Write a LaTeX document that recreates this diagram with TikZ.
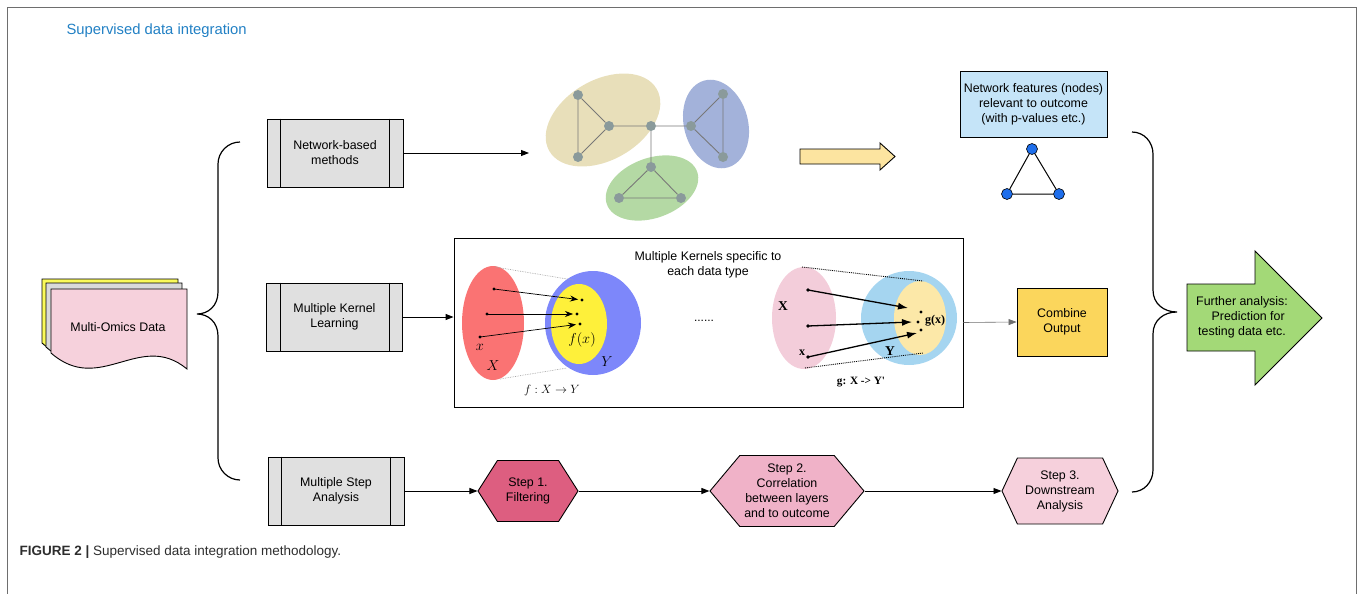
\documentclass[tikz,border=0pt]{standalone}
\usepackage{fontspec}
\setmainfont{Liberation Sans}
\newfontfamily\timesf{Liberation Serif}
\usetikzlibrary{arrows.meta,shapes.symbols}

\definecolor{framegray}{RGB}{110,110,110}
\definecolor{titleblue}{RGB}{33,128,196}
\definecolor{capgray}{RGB}{45,45,45}
\definecolor{procgray}{RGB}{224,224,224}
\definecolor{omicsyellow}{RGB}{250,250,90}
\definecolor{omicsgray}{RGB}{217,217,217}
\definecolor{omicspink}{RGB}{246,209,220}
\definecolor{netbeige}{RGB}{232,223,186}
\definecolor{netblue}{RGB}{163,178,218}
\definecolor{netgreen}{RGB}{180,217,164}
\definecolor{netnode}{RGB}{138,154,155}
\definecolor{netedge}{RGB}{120,120,120}
\definecolor{arrowyellow}{RGB}{252,228,160}
\definecolor{nfblue}{RGB}{197,228,248}
\definecolor{featblue}{RGB}{30,110,235}
\definecolor{kred}{RGB}{250,115,115}
\definecolor{kblue}{RGB}{125,135,250}
\definecolor{kyellow}{RGB}{254,240,58}
\definecolor{kpink}{RGB}{243,205,218}
\definecolor{klblue}{RGB}{165,213,240}
\definecolor{klyellow}{RGB}{252,232,168}
\definecolor{combyellow}{RGB}{251,214,92}
\definecolor{arrowgreen}{RGB}{163,217,119}
\definecolor{stepa}{RGB}{221,94,128}
\definecolor{stepb}{RGB}{240,178,200}
\definecolor{stepc}{RGB}{246,208,220}

\begin{document}
\begin{tikzpicture}[x=1pt, y=-1pt, > = {Triangle[length=8pt,width=6pt]},
    every node/.style = {font=\fontsize{12.4}{15}\selectfont, align=center},
    process/.style = {draw, fill=procgray, line width=0.9pt, minimum width=136, minimum height=68, inner sep=0pt},
    stepbox/.style = {shape=signal, signal to=east and west, draw, line width=0.9pt, inner sep=0pt},
    gnode/.style = {circle, fill=netnode, minimum size=10, inner sep=0pt},
    fnode/.style = {circle, draw, fill=featblue, minimum size=11, inner sep=0pt, line width=0.6pt},
    brace/.style = {line width=1.2pt},
    flow/.style = {->, line width=0.9pt},
    maparrow/.style = {-{Stealth[length=8pt,width=6pt]}, line width=0.7pt},
    bigmap/.style = {-{Latex[length=10pt,width=7pt]}, line width=1.3pt}]

    % frame and title
    \useasboundingbox (0,0) rectangle (1358,594);
    \draw[framegray, line width=1pt] (7,594) -- (7,8) -- (1356,8) -- (1356,594);
    \node[anchor=west, text=titleblue, font=\fontsize{14.8}{17}\selectfont] (title) at (63,31) {Supervised data integration};

    % stacked data sheets
    \foreach \dx/\dy/\col in {-9/-10/omicsyellow, -5/-6/omicsgray, 0/0/omicspink}
      \filldraw[fill=\col, line width=0.9pt, shift={(\dx,\dy)}] (51,289) -- (187,289) -- (187,369) .. controls (140,330) and (100,396) .. (51,353) -- cycle;
    \node (omics) at (118,327) {Multi-Omics Data};

    % braces
    \draw[brace] (240,142) .. controls (228,142) and (218,152) .. (218,164) -- (218,292) .. controls (218,306) and (208,314) .. (197,314) .. controls (208,314) and (218,322) .. (218,336) -- (218,458) .. controls (218,470) and (228,480) .. (240,480);
    \draw[brace] (1132,132) .. controls (1144,132) and (1153,142) .. (1153,154) -- (1153,290) .. controls (1153,304) and (1164,312) .. (1177,312) .. controls (1164,312) and (1153,320) .. (1153,334) -- (1153,470) .. controls (1153,482) and (1144,492) .. (1132,492);

    % methods
    \node[process] (nb) at (335,153) {Network-based\\methods};
    \node[process] (mkl) at (334.5,317) {Multiple Kernel\\Learning};
    \node[process] (msa) at (336,491) {Multiple Step\\Analysis};
    \foreach \n in {nb,mkl,msa}
      \draw[line width=0.9pt] ([xshift=14pt]\n.north west) -- ([xshift=14pt]\n.south west) ([xshift=-14pt]\n.north east) -- ([xshift=-14pt]\n.south east);

    % network
    \fill[netbeige, rotate around={30:(603,120)}] (603,120) ellipse [x radius=62, y radius=40];
    \fill[netblue, rotate around={15:(716,124)}] (716,124) ellipse [x radius=32, y radius=45];
    \fill[netgreen, rotate around={20:(652,188)}] (652,188) ellipse [x radius=48, y radius=30];
    \foreach \n/\x/\y in {a1/578/95, a2/578/157, a3/609/126, hub/651/126, b1/691/126, b2/723/94, b3/723/157, g1/651/167, g2/619/198, g3/681/198}
      \node[gnode] (\n) at (\x,\y) {};
    \draw[netedge, line width=0.9pt] (a1) -- (a2) (a1) -- (a3) (a2) -- (a3) (a3) -- (hub) (hub) -- (b1) (b1) -- (b2) (b1) -- (b3) (b2) -- (b3) (hub) -- (g1) (g1) -- (g2) (g1) -- (g3) (g2) -- (g3);
    \coordinate (netin) at (529,153);
    \draw[flow] (nb.east) -- (netin);

    \filldraw[fill=arrowyellow, line width=0.9pt] (800,149) -- (880,149) -- (880,143) -- (895,156.5) -- (880,170) -- (880,164) -- (800,164) -- cycle;

    \node[draw, fill=nfblue, line width=0.9pt, minimum width=147, minimum height=66, inner sep=0pt] (nf) at (1033.5,104) {Network features (nodes)\\relevant to outcome\\(with p-values etc.)};
    \node[fnode] (t1) at (1032,149) {};
    \node[fnode] (t2) at (1007,194) {};
    \node[fnode] (t3) at (1059,194) {};
    \draw[line width=1pt] (t1) -- (t2) -- (t3) -- (t1);

    % kernel panel
    \node[draw, line width=0.9pt, minimum width=509, minimum height=169, inner sep=0pt] (panel) at (708.5,322.5) {};
    \node (mktitle) at (708,265) {Multiple Kernels specific to\\each data type};
    \draw[flow] (mkl.east) -- (mkl.east -| panel.west);

    % left kernel
    \fill[kred] (493,323) ellipse [x radius=31, y radius=57];
    \fill[kblue] (593,323) ellipse [x radius=48, y radius=52];
    \fill[kyellow] (579,324) ellipse [x radius=28, y radius=40];
    \draw[gray!70, densely dotted, line width=0.7pt] (495,267) -- (573,280) (500,379) -- (567,368);
    \foreach \s/\sx/\sy/\t/\tx/\ty in {p1/494/289/q1/582/300, p2/487/314/q2/577/314, p3/480/337/q3/580/324} {
      \coordinate (\s) at (\sx,\sy);
      \coordinate (\t) at (\tx,\ty);
      \fill (\s) circle (1.7);
      \fill (\t) circle (1.7);
      \draw[maparrow, shorten >=4pt] (\s) -- (\t);
    }
    \node[font=\fontsize{15}{17}\selectfont] (lx) at (480,347) {$x$};
    \node[font=\fontsize{15}{17}\selectfont] (lX) at (493,366) {$X$};
    \node[font=\fontsize{15}{17}\selectfont] (lfx) at (582,340) {$f(x)$};
    \node[font=\fontsize{15}{17}\selectfont] (lY) at (607,362) {$Y$};
    \node[font=\fontsize{12.5}{15}\selectfont] (lmap) at (552,390) {$f : X \to Y$};

    \node[font=\fontsize{12}{14}\selectfont] (dots) at (704,321) {......};

    % right kernel
    \fill[kpink] (804,318) ellipse [x radius=32, y radius=51];
    \fill[klblue] (909,318) ellipse [x radius=48, y radius=47];
    \fill[klyellow] (920,318) ellipse [x radius=26, y radius=37];
    \draw[densely dotted, line width=0.9pt] (802,267) -- (923,281) (805,368) -- (923,353);
    \foreach \s/\sx/\sy/\t/\tx/\ty/\d/\ex/\ey in {r1/808/290/u1/908/308/e1/921/312, r2/808/326/u2/912/322/e2/918/322, r3/808/357/u3/917/333/e3/921/330} {
      \coordinate (\s) at (\sx,\sy);
      \coordinate (\t) at (\tx,\ty);
      \coordinate (\d) at (\ex,\ey);
      \fill (\s) circle (1.8);
      \fill (\d) circle (1.6);
      \draw[bigmap] (\s) -- (\t);
    }
    \node[font=\timesf\bfseries\fontsize{13.5}{16}\selectfont] (rX) at (783,306) {X};
    \node[font=\timesf\bfseries\fontsize{12}{14}\selectfont] (rx) at (802,353) {x};
    \node[font=\timesf\bfseries\fontsize{13.5}{16}\selectfont] (rY) at (890,351) {Y};
    \node[font=\timesf\bfseries\fontsize{12}{14}\selectfont] (rgx) at (935,321) {g(x)};
    \node[font=\timesf\bfseries\fontsize{11.2}{14}\selectfont] (rmap) at (861,382) {g: X -> Y'};

    \node[draw, fill=combyellow, line width=0.9pt, minimum width=90, minimum height=68, inner sep=0pt] (comb) at (1062,322) {Combine\\Output};
    \draw[->, framegray, line width=0.6pt] (panel.east) -- (comb.west);

    % steps
    \node[stepbox, fill=stepa, minimum width=100, minimum height=61, signal pointer angle=115] (s1) at (528,491) {Step 1.\\Filtering};
    \node[stepbox, fill=stepb, minimum width=154, minimum height=71, signal pointer angle=100] (s2) at (787,491) {Step 2.\\Correlation\\between layers\\and to outcome};
    \node[stepbox, fill=stepc, minimum width=116, minimum height=66, signal pointer angle=130] (s3) at (1060,491) {Step 3.\\Downstream\\Analysis};
    \draw[flow] (msa.east) -- (s1.west);
    \draw[flow] (s1.east) -- (s2.west);
    \draw[flow] (s2.east) -- (s3.west);

    % outcome
    \filldraw[fill=arrowgreen, line width=0.9pt] (1187,284) -- (1255,284) -- (1255,251) -- (1322,318) -- (1255,385) -- (1255,351) -- (1187,351) -- cycle;
    \node (further) at (1242,317) {Further analysis:\\\hspace*{1em}Prediction for\\testing data etc.};

    % caption
    \node[anchor=west, text=capgray, font=\fontsize{13.5}{16}\selectfont] (cap) at (16,552) {\textbf{FIGURE 2 |} Supervised data integration methodology.};

\end{tikzpicture}
\end{document}
